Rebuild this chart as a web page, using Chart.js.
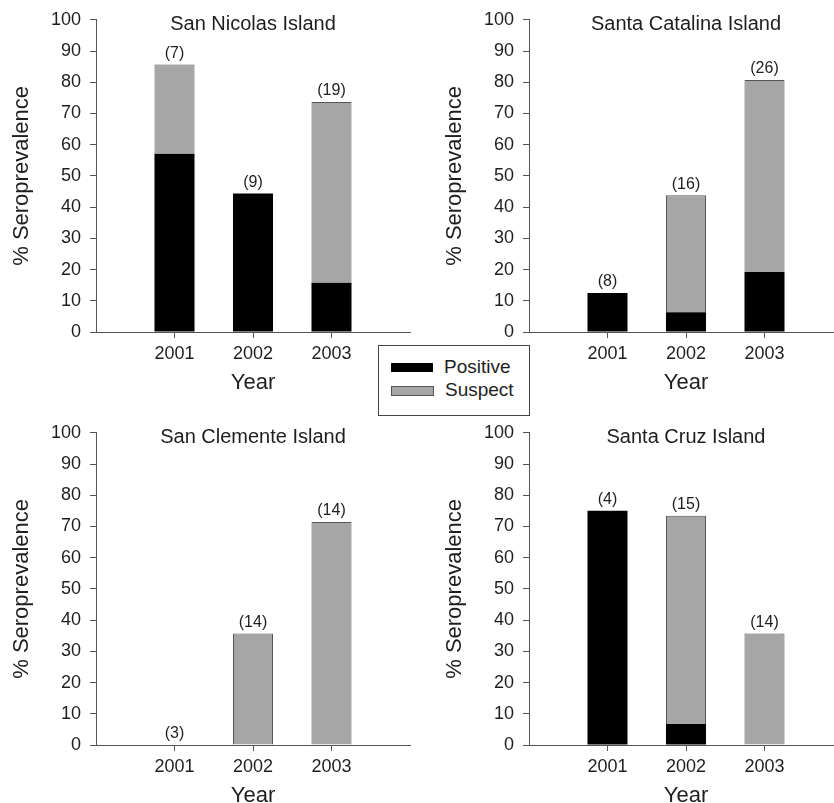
<!DOCTYPE html>
<html>
<head>
<meta charset="utf-8">
<script src="https://cdn.jsdelivr.net/npm/chart.js@4.4.0/dist/chart.umd.min.js"></script>
<style>
  html, body { margin: 0; padding: 0; background: #fff; overflow: hidden; }
  #wrap { position: relative; width: 834px; height: 803px; overflow: hidden; }
  .panel { position: absolute; }
  #legend {
    position: absolute; left: 378px; top: 345px; width: 150px; height: 69px;
    border: 1px solid #444; background: #fff; z-index: 5;
    font-family: "Liberation Sans", Arial, sans-serif; font-size: 19px; color: #1e1e1e;
  }
  #legend .row { position: absolute; left: 12px; height: 22px; line-height: 22px; }
  #legend .sw { display: inline-block; width: 42px; height: 9px; vertical-align: middle; margin-right: 11px; }
</style>
</head>
<body>
<div id="wrap">
  <canvas id="c1" class="panel" width="417" height="400" style="left:0px;top:0px"></canvas>
  <canvas id="c2" class="panel" width="417" height="400" style="left:433px;top:0px"></canvas>
  <canvas id="c3" class="panel" width="417" height="400" style="left:0px;top:413px"></canvas>
  <canvas id="c4" class="panel" width="417" height="400" style="left:433px;top:413px"></canvas>
  <div id="legend">
    <div class="row" style="top:10px"><span class="sw" style="background:#000"></span>Positive</div>
    <div class="row" style="top:33px"><span class="sw" style="background:#a6a6a6;border:1px solid #555;height:8px;width:41px"></span>Suspect</div>
  </div>
</div>
<script>
// years on the x axis (blank slots pad each side)
const years = ['', '2001', '2002', '2003', ''];

// San Nicolas Island
const nicolasPositive = [57.1, 44.4, 15.8];
const nicolasSuspect = [28.6, 0, 57.9];
const nicolasN = [7, 9, 19];

// Santa Catalina Island
const catalinaPositive = [12.5, 6.3, 19.2];
const catalinaSuspect = [0, 37.5, 61.5];
const catalinaN = [8, 16, 26];

// San Clemente Island
const clementePositive = [0, 0, 0];
const clementeSuspect = [0, 35.7, 71.4];
const clementeN = [3, 14, 14];

// Santa Cruz Island
const cruzPositive = [75, 6.7, 0];
const cruzSuspect = [0, 66.7, 35.7];
const cruzN = [4, 15, 14];

const FONT = '"Liberation Sans", Arial, sans-serif';
const TEXT = '#1e1e1e';
const AXIS = '#555';

// pad the three years with empty slots at both ends
function pad(arr) {
  return [null, ...arr, null];
}

// draws panel title and the (n) labels above each stack
const annotatePlugin = {
  id: 'annotate',
  afterDatasetsDraw(chart, args, opts) {
    const ctx = chart.ctx;
    const x = chart.scales.x;
    const y = chart.scales.y;
    ctx.save();
    ctx.fillStyle = TEXT;
    ctx.textAlign = 'center';
    ctx.textBaseline = 'middle';
    ctx.font = '20px ' + FONT;
    ctx.fillText(opts.title, x.getPixelForValue(2), chart.chartArea.top + 5);
    ctx.font = '16px ' + FONT;
    ctx.textBaseline = 'bottom';
    opts.n.forEach((n, i) => {
      const total = (opts.pos[i] || 0) + (opts.sus[i] || 0);
      ctx.fillText('(' + n + ')', x.getPixelForValue(i + 1), y.getPixelForValue(total) - 3);
    });
    ctx.restore();
  }
};

function createPanel(canvasId, title, positive, suspect, counts) {
  const ctx = document.getElementById(canvasId).getContext('2d');
  return new Chart(ctx, {
    type: 'bar',
    data: {
      labels: years,
      datasets: [{
        label: 'Positive',
        data: pad(positive),
        backgroundColor: '#000',
        borderWidth: 0,
        barPercentage: 0.51,
        categoryPercentage: 1,
      }, {
        label: 'Suspect',
        data: pad(suspect),
        backgroundColor: '#a6a6a6',
        borderColor: '#555',
        borderWidth: 1,
        barPercentage: 0.51,
        categoryPercentage: 1,
      }],
    },
    options: {
      responsive: false,
      animation: false,
      layout: { padding: { top: 18, right: 7, left: 0, bottom: 0 } },
      plugins: {
        legend: { display: false },
        tooltip: { enabled: false },
        annotate: { title: title, n: counts, pos: positive, sus: suspect },
      },
      scales: {
        x: {
          stacked: true,
          offset: false,
          afterFit: (s) => { s.height = 68; },
          grid: {
            offset: false,
            drawOnChartArea: false,
            tickLength: 6,
            color: (c) => (c.index === 0 || c.index === 4 ? 'rgba(0,0,0,0)' : AXIS),
          },
          border: { display: true, color: AXIS, width: 1 },
          ticks: { color: TEXT, font: { family: FONT, size: 18 }, padding: 5, maxRotation: 0, autoSkip: false },
          title: { display: true, text: 'Year', color: TEXT, font: { family: FONT, size: 22 }, padding: { top: 4, bottom: 4 } },
        },
        y: {
          stacked: true,
          min: 0,
          max: 100,
          afterFit: (s) => { s.width = 96; },
          grid: { drawOnChartArea: false, tickLength: 6, color: AXIS },
          border: { display: true, color: AXIS, width: 1 },
          ticks: { stepSize: 10, autoSkip: false, color: TEXT, font: { family: FONT, size: 18 }, padding: 9 },
          title: { display: true, text: '% Seroprevalence', color: TEXT, font: { family: FONT, size: 22 }, padding: { top: 9, bottom: 4 } },
        },
      },
    },
    plugins: [annotatePlugin],
  });
}

createPanel('c1', 'San Nicolas Island', nicolasPositive, nicolasSuspect, nicolasN);
createPanel('c2', 'Santa Catalina Island', catalinaPositive, catalinaSuspect, catalinaN);
createPanel('c3', 'San Clemente Island', clementePositive, clementeSuspect, clementeN);
createPanel('c4', 'Santa Cruz Island', cruzPositive, cruzSuspect, cruzN);
</script>
</body>
</html>
